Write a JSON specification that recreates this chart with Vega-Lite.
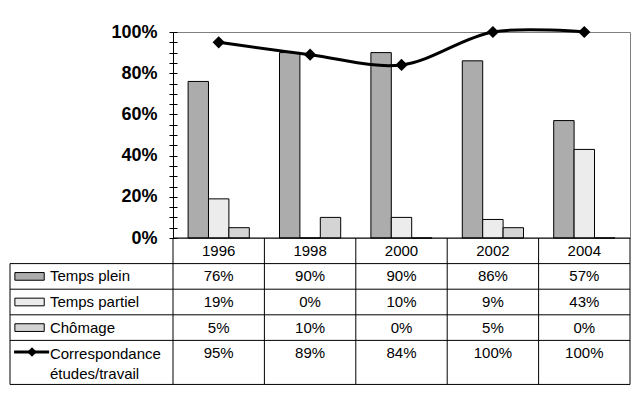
{
  "$schema": "https://vega.github.io/schema/vega-lite/v6.json",
  "autosize": {"type": "none"},
  "width": 457,
  "height": 206,
  "padding": {"left": 173, "top": 32, "right": 10, "bottom": 162},
  "background": "white",
  "config": {"view": {"stroke": "#808080", "strokeWidth": 1}, "font": "Liberation Sans"},
  "data": {"values": [
    {"year": "1996", "series": "Temps plein", "value": 0.76},
    {"year": "1996", "series": "Temps partiel", "value": 0.19},
    {"year": "1996", "series": "Chômage", "value": 0.05},
    {"year": "1996", "series": "Correspondance études/travail", "value": 0.95},
    {"year": "1998", "series": "Temps plein", "value": 0.90},
    {"year": "1998", "series": "Temps partiel", "value": 0.0},
    {"year": "1998", "series": "Chômage", "value": 0.10},
    {"year": "1998", "series": "Correspondance études/travail", "value": 0.89},
    {"year": "2000", "series": "Temps plein", "value": 0.90},
    {"year": "2000", "series": "Temps partiel", "value": 0.10},
    {"year": "2000", "series": "Chômage", "value": 0.0},
    {"year": "2000", "series": "Correspondance études/travail", "value": 0.84},
    {"year": "2002", "series": "Temps plein", "value": 0.86},
    {"year": "2002", "series": "Temps partiel", "value": 0.09},
    {"year": "2002", "series": "Chômage", "value": 0.05},
    {"year": "2002", "series": "Correspondance études/travail", "value": 1.0},
    {"year": "2004", "series": "Temps plein", "value": 0.57},
    {"year": "2004", "series": "Temps partiel", "value": 0.43},
    {"year": "2004", "series": "Chômage", "value": 0.0},
    {"year": "2004", "series": "Correspondance études/travail", "value": 1.0}
  ]},
  "resolve": {"scale": {"x": "independent", "y": "independent"}},
  "layer": [
    {
      "resolve": {"axis": {"y": "independent"}},
      "layer": [
        {
          "transform": [{"filter": "datum.series !== 'Correspondance études/travail'"}],
          "mark": {"type": "bar", "stroke": "black", "strokeWidth": 1},
          "encoding": {
            "x": {"field": "year", "type": "ordinal", "scale": {"type": "band", "paddingInner": 0, "paddingOuter": 0}, "axis": null},
            "xOffset": {"field": "series", "type": "nominal", "scale": {"type": "band", "domain": ["Temps plein", "Temps partiel", "Chômage"], "paddingInner": 0, "paddingOuter": 0.74}},
            "y": {"field": "value", "type": "quantitative", "scale": {"domain": [0, 1], "nice": false, "zero": true},
              "axis": {"orient": "left", "title": null, "grid": false,
                "values": [0, 0.05, 0.1, 0.15, 0.2, 0.25, 0.3, 0.35, 0.4, 0.45, 0.5, 0.55, 0.6, 0.65, 0.7, 0.75, 0.8, 0.85, 0.9, 0.95, 1],
                "format": ".0%", "labelExpr": "round(datum.value*100) % 20 === 0 ? datum.label : ''",
                "tickSize": 4, "tickColor": "black", "tickWidth": 1, "domainColor": "black", "domainWidth": 1,
                "labelFont": "Liberation Sans", "labelFontWeight": "bold", "labelFontSize": 18, "labelColor": "black",
                "labelPadding": 12, "labelOverlap": false, "labelFlush": false, "labelBound": false}},
            "fill": {"field": "series", "type": "nominal", "scale": {"domain": ["Temps plein", "Temps partiel", "Chômage", "Correspondance études/travail"], "range": ["#acacac", "#ececec", "#d4d4d4", "#000000"]}, "legend": null}
          }
        },
        {
          "transform": [{"filter": "datum.series === 'Correspondance études/travail'"}],
          "mark": {"type": "line", "interpolate": "catmull-rom", "color": "black", "strokeWidth": 3},
          "encoding": {
            "x": {"field": "year", "type": "ordinal", "scale": {"type": "band", "paddingInner": 0, "paddingOuter": 0}, "axis": null},
            "y": {"field": "value", "type": "quantitative",
              "axis": {"orient": "left", "title": null, "grid": false, "labels": false, "domain": false,
                "values": [0, 0.05, 0.1, 0.15, 0.2, 0.25, 0.3, 0.35, 0.4, 0.45, 0.5, 0.55, 0.6, 0.65, 0.7, 0.75, 0.8, 0.85, 0.9, 0.95, 1],
                "tickSize": 4, "tickColor": "black", "tickWidth": 1, "offset": -4}}
          }
        },
        {
          "transform": [{"filter": "datum.series === 'Correspondance études/travail'"}],
          "mark": {"type": "point", "shape": "diamond", "size": 150, "filled": true, "color": "black", "opacity": 1},
          "encoding": {
            "x": {"field": "year", "type": "ordinal", "scale": {"type": "band", "paddingInner": 0, "paddingOuter": 0}, "axis": null},
            "y": {"field": "value", "type": "quantitative", "axis": null}
          }
        }
      ]
    },
    {
      "encoding": {
        "x": {"field": "year", "type": "ordinal", "scale": {"type": "band", "paddingInner": 0, "paddingOuter": 0}, "axis": null}
      },
      "layer": [
        {
          "mark": {"type": "text", "fontSize": 15, "color": "black", "baseline": "middle", "align": "center"},
          "encoding": {
            "y": {"field": "series", "type": "nominal", "scale": {"type": "band", "domain": ["Année", "Temps plein", "Temps partiel", "Chômage", "Correspondance études/travail"], "range": [206, 334], "paddingInner": 0, "paddingOuter": 0}, "axis": null},
            "text": {"field": "value", "type": "quantitative", "format": ".0%"}
          }
        },
        {
          "transform": [{"filter": "datum.series === 'Temps plein'"}],
          "mark": {"type": "text", "fontSize": 15, "color": "black", "baseline": "middle", "align": "center"},
          "encoding": {
            "y": {"datum": "Année", "type": "nominal"},
            "text": {"field": "year", "type": "nominal"}
          }
        },
        {
          "transform": [{"filter": "datum.year === '1996'"}],
          "mark": {"type": "rule", "color": "black", "strokeWidth": 1},
          "encoding": {
            "x": null,
            "y": {"field": "series", "type": "nominal", "bandPosition": 0}
          }
        },
        {
          "transform": [{"filter": "datum.year === '1996' && datum.series === 'Temps plein'"}],
          "mark": {"type": "rule", "color": "black", "strokeWidth": 1},
          "encoding": {
            "x": null,
            "y": {"datum": "Année", "type": "nominal", "bandPosition": 0}
          }
        },
        {
          "transform": [{"filter": "datum.year === '1996' && datum.series === 'Temps plein'"}],
          "mark": {"type": "rule", "color": "black", "strokeWidth": 1},
          "encoding": {
            "x": null,
            "y": {"datum": "Correspondance études/travail", "type": "nominal", "bandPosition": 1.72}
          }
        },
        {
          "transform": [{"filter": "datum.series === 'Temps plein'"}],
          "mark": {"type": "rule", "color": "black", "strokeWidth": 1},
          "encoding": {
            "x": {"field": "year", "type": "ordinal", "bandPosition": 0},
            "y": {"datum": "Année", "type": "nominal", "bandPosition": 0},
            "y2": {"datum": "Correspondance études/travail", "bandPosition": 1.72}
          }
        },
        {
          "transform": [{"filter": "datum.year === '2004' && datum.series === 'Temps plein'"}],
          "mark": {"type": "rule", "color": "black", "strokeWidth": 1},
          "encoding": {
            "x": {"field": "year", "type": "ordinal", "bandPosition": 1},
            "y": {"datum": "Année", "type": "nominal", "bandPosition": 0},
            "y2": {"datum": "Correspondance études/travail", "bandPosition": 1.72}
          }
        }
      ]
    },
    {
      "transform": [{"filter": "datum.year === '1996'"}],
      "layer": [
        {
          "transform": [{"filter": "datum.series !== 'Correspondance études/travail'"}],
          "mark": {"type": "text", "fontSize": 15, "color": "black", "baseline": "middle", "align": "left"},
          "encoding": {
            "x": {"datum": 0.245, "type": "quantitative", "scale": {"type": "linear", "domain": [0, 1], "range": [-163, 0], "nice": false, "zero": false}, "axis": null},
            "y": {"field": "series", "type": "nominal", "scale": {"type": "band", "domain": ["Année", "Temps plein", "Temps partiel", "Chômage", "Correspondance études/travail"], "range": [206, 334], "paddingInner": 0, "paddingOuter": 0}, "axis": null},
            "text": {"field": "series", "type": "nominal"}
          }
        },
        {
          "transform": [{"filter": "datum.series === 'Correspondance études/travail'"}],
          "mark": {"type": "text", "fontSize": 15, "color": "black", "baseline": "middle", "align": "left", "lineBreak": " ", "lineHeight": 20},
          "encoding": {
            "x": {"datum": 0.245, "type": "quantitative"},
            "y": {"field": "series", "type": "nominal", "bandPosition": 0.55},
            "text": {"field": "series", "type": "nominal"}
          }
        },
        {
          "transform": [{"filter": "datum.series !== 'Correspondance études/travail'"}],
          "mark": {"type": "bar", "height": {"band": 0.3}, "stroke": "black", "strokeWidth": 1},
          "encoding": {
            "x": {"datum": 0.03, "type": "quantitative"},
            "x2": {"datum": 0.21},
            "y": {"field": "series", "type": "nominal"},
            "fill": {"field": "series", "type": "nominal", "legend": null}
          }
        },
        {
          "transform": [{"filter": "datum.series === 'Correspondance études/travail'"}],
          "mark": {"type": "rule", "color": "black", "strokeWidth": 3},
          "encoding": {
            "x": {"datum": 0.025, "type": "quantitative"},
            "x2": {"datum": 0.24},
            "y": {"field": "series", "type": "nominal", "bandPosition": 0.45}
          }
        },
        {
          "transform": [{"filter": "datum.series === 'Correspondance études/travail'"}],
          "mark": {"type": "point", "shape": "diamond", "size": 90, "filled": true, "color": "black", "opacity": 1},
          "encoding": {
            "x": {"datum": 0.135, "type": "quantitative"},
            "y": {"field": "series", "type": "nominal", "bandPosition": 0.45}
          }
        },
        {
          "mark": {"type": "rule", "color": "black", "strokeWidth": 1},
          "encoding": {
            "x": {"datum": 0, "type": "quantitative"},
            "x2": {"datum": 1},
            "y": {"field": "series", "type": "nominal", "bandPosition": 0}
          }
        },
        {
          "transform": [{"filter": "datum.series === 'Correspondance études/travail'"}],
          "mark": {"type": "rule", "color": "black", "strokeWidth": 1},
          "encoding": {
            "x": {"datum": 0, "type": "quantitative"},
            "x2": {"datum": 1},
            "y": {"field": "series", "type": "nominal", "bandPosition": 1.72}
          }
        },
        {
          "transform": [{"filter": "datum.series === 'Correspondance études/travail'"}],
          "mark": {"type": "rule", "color": "black", "strokeWidth": 1},
          "encoding": {
            "x": {"datum": 0, "type": "quantitative"},
            "y": {"datum": "Temps plein", "type": "nominal", "bandPosition": 0},
            "y2": {"datum": "Correspondance études/travail", "bandPosition": 1.72}
          }
        }
      ]
    }
  ]
}
